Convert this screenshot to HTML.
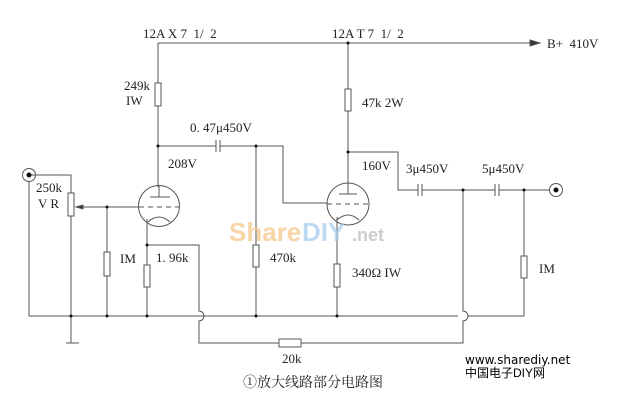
<!DOCTYPE html>
<html><head><meta charset="utf-8"><style>
html,body{margin:0;padding:0;background:#fff;}
svg{display:block;}
text{font-family:"Liberation Serif","Noto Serif CJK SC",serif;fill:#222;}
</style></head><body>
<svg width="624" height="407" viewBox="0 0 624 407" xmlns="http://www.w3.org/2000/svg">
<g stroke="#555" stroke-width="1" fill="none">
<path d="M158 43 H530"/>
<path d="M530 40 L540 43 L530 46 Z" fill="#333"/>
<path d="M158 43 V83 M158 106 V187"/>
<rect x="155" y="83" width="6" height="23" fill="#fff"/>
<path d="M158 146 H216 M220 146 H283 V203 H327"/>
<path d="M216 140 V152 M220 140 V152"/>
<path d="M256 146 V245 M256 267 V316"/>
<rect x="253" y="245" width="6" height="22" fill="#fff"/>
<circle cx="159" cy="206" r="20.5"/>
<path d="M150 197 H170 M159 186 V197"/>
<path d="M139 207 H179" stroke-dasharray="5,4"/>
<path d="M148 222 Q159 212 170 222"/>
<path d="M147 219 V245 M147 245 V265 M147 287 V316"/>
<rect x="144" y="265" width="6" height="22" fill="#fff"/>
<path d="M147 245 H199 V311 A5 5 0 0 1 199 321 V343 H279 M301 343 H463 V321 A5 5 0 0 0 463 311 V190"/>
<rect x="279" y="339" width="22" height="8" fill="#fff"/>
<circle cx="29" cy="175" r="6.5"/>
<path d="M29 175 H71 V193 M71 216 V343 M66 343 H79"/>
<rect x="68" y="193" width="6" height="23" fill="#fff"/>
<path d="M76 207 H139"/>
<path d="M76 207 L83 205 L83 209 Z" fill="#333"/>
<path d="M29 182 V316 H199 M199 316 H458 M468 316 H524"/>
<path d="M107 207 V252 M107 276 V316"/>
<rect x="104" y="252" width="6" height="24" fill="#fff"/>
<path d="M348 43 V89 M348 111 V183"/>
<rect x="345" y="89" width="6" height="22" fill="#fff"/>
<circle cx="348" cy="204" r="21"/>
<path d="M339 194 H357 M348 183 V194"/>
<path d="M327 204 H369" stroke-dasharray="5,4"/>
<path d="M337 220 Q348 210 359 220"/>
<path d="M337 217 V264 M337 287 V316"/>
<rect x="334" y="264" width="6" height="23" fill="#fff"/>
<path d="M348 152 H398 V190 H418 M422 190 H495 M499 190 H549"/>
<path d="M418 184 V196 M422 184 V196 M495 184 V196 M499 184 V196"/>
<path d="M524 190 V256 M524 278 V316"/>
<rect x="521" y="256" width="6" height="22" fill="#fff"/>
<circle cx="556" cy="190" r="6.5"/>
</g>
<g fill="#111">
<circle cx="29" cy="175" r="2.5"/><circle cx="556" cy="190" r="2.5"/>
<circle cx="348" cy="43" r="1.5"/><circle cx="158" cy="146" r="1.5"/><circle cx="256" cy="146" r="1.5"/>
<circle cx="348" cy="152" r="1.5"/><circle cx="107" cy="207" r="1.5"/><circle cx="147" cy="245" r="1.5"/>
<circle cx="71" cy="316" r="1.5"/><circle cx="107" cy="316" r="1.5"/><circle cx="147" cy="316" r="1.5"/>
<circle cx="256" cy="316" r="1.5"/><circle cx="337" cy="316" r="1.5"/><circle cx="463" cy="190" r="1.5"/><circle cx="524" cy="190" r="1.5"/>
</g>
<text x="229" y="241" style="font-family:'Liberation Sans',sans-serif;font-weight:bold;font-size:26px;fill:#f6c88a;opacity:0.75">Share</text>
<text x="302" y="241" style="font-family:'Liberation Sans',sans-serif;font-weight:bold;font-size:26px;fill:#a9cdee;opacity:0.75">DIY</text>
<text x="352" y="241" style="font-family:'Liberation Sans',sans-serif;font-weight:bold;font-size:18px;fill:#bbb;opacity:0.75">.net</text>
<g font-size="13">
<text x="143" y="38">12A X 7&#160;&#160;1/&#160;&#160;2</text>
<text x="332" y="38">12A T 7&#160;&#160;1/&#160;&#160;2</text>
<text x="547" y="48">B+&#160; 410V</text>
<text x="124" y="90">249k</text>
<text x="126" y="105">IW</text>
<text x="190" y="132">0. 47μ450V</text>
<text x="168" y="168">208V</text>
<text x="362" y="170">160V</text>
<text x="406" y="173">3μ450V</text>
<text x="482" y="173">5μ450V</text>
<text x="362" y="107">47k 2W</text>
<text x="36" y="192">250k</text>
<text x="38" y="208">V R</text>
<text x="120" y="263">IM</text>
<text x="156" y="262">1. 96k</text>
<text x="270" y="262">470k</text>
<text x="352" y="277">340Ω IW</text>
<text x="539" y="273">IM</text>
<text x="282" y="363">20k</text>
<text x="243" y="387" font-size="14">①放大线路部分电路图</text>
</g>
<text x="465" y="364" style="font-family:'DejaVu Sans',sans-serif;font-size:12px;fill:#000">www.sharediy.net</text>
<text x="465" y="377" style="font-family:'WenQuanYi Zen Hei',sans-serif;font-size:12px;fill:#000">中国电子DIY网</text>
</svg>
</body></html>
